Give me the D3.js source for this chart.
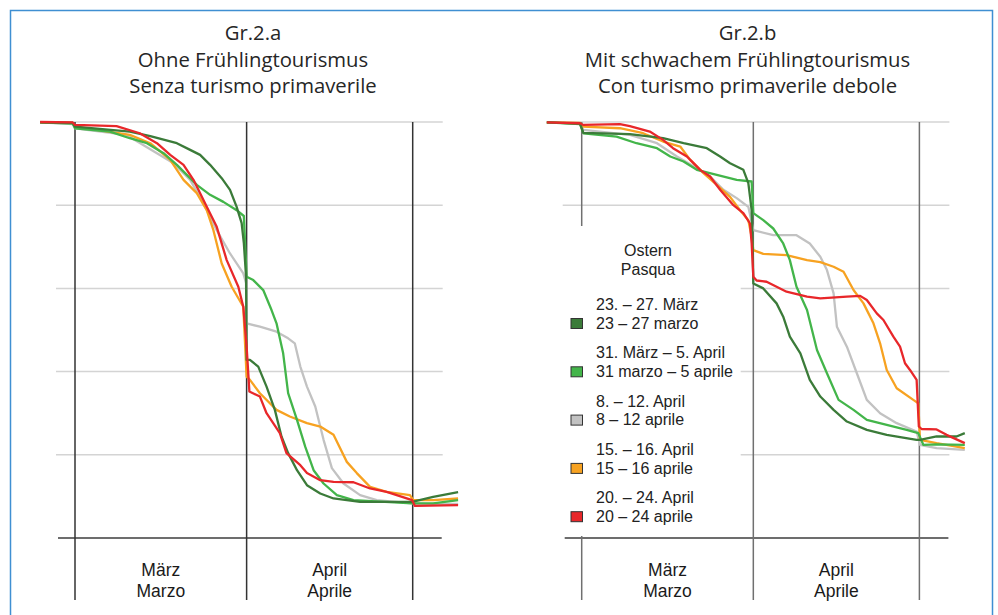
<!DOCTYPE html>
<html>
<head>
<meta charset="utf-8">
<script src="https://cdn.jsdelivr.net/npm/d3@7"></script>
<style>
  body { margin: 0; background: #fff; }
</style>
</head>
<body>
<div id="grafik"></div>
<script>
// Legende: Ostertermine (de / it) und Farben
var osternDe = ["23. – 27. März", "31. März – 5. April", "8. – 12. April", "15. – 16. April", "20. – 24. April"];
var osternIt = ["23 – 27 marzo", "31 marzo – 5 aprile", "8 – 12 aprile", "15 – 16 aprile", "20 – 24 aprile"];
var farben = ["#3b7b39", "#43b54a", "#c2c2c2", "#f7a221", "#e8272a"];

// Achse: Monate, Grenzen in Tagen ab 1. März, Gitterwerte (Index, 100 = Anfang)
var monateDe = ["März", "April"];
var monateIt = ["Marzo", "Aprile"];
var monatsGrenzen = [0, 31, 61];
var gitterWerte = [20, 40, 60, 80, 100];

// Gr.2.a  [Tag ab 1. März, Wert]
var a_dunkelgruen = [[-6.3,99.9],[-0.4,99.8],[0,98.9],[9.9,97.7],[13.6,96.6],[18.4,94.9],[20.8,93.3],[22.6,92.1],[24.4,89.7],[26.5,86.5],[28,83.7],[29.2,79.6],[30.1,75.7],[30.5,70.9],[30.9,62.8],[31,42.8],[31.6,42.8],[33.1,41.2],[34.6,36.4],[36.1,30.8],[37.3,24.4],[38.5,20.4],[40.1,16.3],[41.9,12.7],[44.3,10.7],[46.7,9.5],[51.5,8.7],[60.9,8.7],[64.7,9.9],[69.2,11]];
var a_gruen = [[-6.3,99.9],[-0.4,99.6],[0,98.5],[6.3,97.7],[9.9,96.1],[13,94.9],[16,92.5],[18.4,89.7],[20.2,87.3],[22,84.9],[24.4,82.5],[26.8,80.8],[29.2,78.8],[30.5,77.4],[31,62.8],[32.2,62],[34,59.6],[35.5,54.8],[36.4,51.6],[37.6,44.4],[38.5,34.8],[40.1,28.4],[41.6,21.9],[43.1,16.3],[44.9,13.1],[47.3,10.3],[50.3,9.1],[60.9,8.3],[64.7,8.3],[69.2,9.1]];
var a_grau = [[-6.3,99.9],[-0.4,99.5],[0,98.5],[9.3,96.9],[14.8,92.5],[17.8,90.1],[20.8,86.1],[23.2,80.5],[25.6,74],[28,68.4],[30.4,63.6],[30.9,61.3],[31,51.6],[33.4,50.8],[36.4,49.6],[38.5,48],[39.7,46.8],[40.7,41.2],[41.9,36.4],[43.4,31.6],[44.9,23.6],[46.4,16.8],[48.5,13.1],[51.5,10.3],[54.5,9.1],[60.9,8.3],[64.7,8.2],[69.2,8.2]];
var a_orange = [[-6.3,99.9],[-0.4,99.8],[0,98.9],[9.9,96.9],[13.6,94.9],[17.2,90.9],[18.4,88.5],[19.6,86.1],[22,82.9],[23.8,78.8],[25,74],[26.5,66],[28.3,60.4],[30.4,55.6],[31,38.8],[31.6,38],[33.4,34.8],[36.4,30.8],[38.8,29.2],[41.9,27.6],[44.3,26.8],[46.7,24.8],[49.1,18.3],[50.9,15.6],[53.3,12.3],[56.3,11.1],[60.5,10.3],[61.1,9.1],[64.7,9.1],[69.2,9.5]];
var a_rot = [[-6.3,100],[-0.4,99.9],[0,99.3],[7.5,99],[11.7,97.3],[14.8,94.9],[17.2,92.1],[19.6,89.7],[21.4,86.1],[23.8,79.6],[25.6,74.8],[27.4,66.8],[29.5,60.4],[30.4,55.6],[31,46],[31.5,35.2],[33.4,34],[34.6,30],[37,25.2],[38.2,20.4],[40.7,17.5],[41.9,15.6],[44.3,13.9],[46.7,13.5],[50.3,13.4],[53.3,11.9],[56.3,11.1],[60.9,9.1],[61.4,7.7],[69.2,7.9]];

// Gr.2.b
var b_dunkelgruen = [[-6.3,99.9],[-0.3,99.6],[0.3,97.4],[8.7,97.1],[14.7,96.1],[18.4,94.9],[22.6,93.7],[25,91.7],[26.8,90.1],[29.2,88.5],[30.1,85.3],[30.7,78.8],[30.9,69.2],[31,61.2],[32.8,60],[35.2,56.4],[36.4,53.2],[37.6,48.4],[39.5,44.4],[41.2,38],[43.1,34],[45.5,30.8],[47.9,28],[51.5,26],[55.1,24.8],[60.5,23.6],[61.1,23.6],[64.1,24.4],[67.7,24.4],[69.2,25.2]];
var b_gruen = [[-6.3,99.9],[-0.3,99.5],[0.3,97.3],[6.3,96.5],[9.9,94.9],[13.6,93.7],[16,91.7],[18.4,90.5],[20.8,88.5],[24.4,87.3],[28,86.1],[30.7,85.7],[31,78.1],[32.8,76.4],[34.6,74.4],[36.4,70.8],[37.6,66.8],[38.8,60.4],[40.7,54.8],[42.5,45.2],[44.3,39.6],[46.4,33.2],[49.1,30.8],[51.5,28.4],[55.1,27.2],[58.7,26],[60.8,25.2],[61.7,22.4],[64.1,22.5],[69.2,22.4]];
var b_grau = [[-6.3,99.9],[-0.3,99.6],[0.3,98.1],[8.7,96.9],[13.6,94.9],[17.2,91.7],[20.8,88.9],[23.2,86.9],[25.6,83.7],[28,81.7],[30.1,79.6],[31,74],[34.6,72.8],[38.8,72.8],[41.2,70.8],[43.1,67.6],[44.3,64.4],[45.5,58.8],[46.1,50.8],[47.9,46],[49.7,39.6],[51.5,33.2],[53.9,30],[56.9,27.6],[60.5,25.6],[61.1,22.4],[64.1,21.6],[69.2,21.2]];
var b_orange = [[-6.3,99.9],[-0.3,99.8],[0.3,98.9],[6.9,98.5],[11.1,97.3],[14.7,95.3],[17.8,94.1],[19.6,90.9],[22,87.7],[24.4,84.9],[26.8,82],[28.6,78.8],[30.1,76.4],[30.7,72.4],[31,69.2],[32.8,68.3],[37,68],[40.7,66.8],[43.1,66.3],[45.5,65.2],[47.3,64],[49.1,59.6],[50.9,56.4],[52.7,51.6],[53.9,46.8],[55.1,40.4],[56.9,36],[59.9,33.2],[60.8,32.4],[61.1,23.6],[64.1,22.8],[69.2,21.6]];
var b_rot = [[-6.3,99.9],[-0.3,99.7],[0.3,99.3],[6.9,99.5],[8.7,99],[12.3,97.7],[14.7,95.7],[16.5,93.7],[19,91.7],[20.2,90.1],[21.4,88.5],[23.2,86.9],[25,83.7],[27.4,80],[29.2,78.1],[30.4,75.6],[30.7,70.8],[31,62.8],[31.6,61.9],[33.4,61.6],[37,59.2],[40.7,58],[43.1,57.6],[47.9,58],[50.3,58.2],[51.5,57.2],[53.3,54],[54.5,52.4],[56.3,48.4],[57.5,46],[58.4,42],[59.3,40.4],[60.5,38],[60.9,26.8],[61.4,26.2],[64.1,26.1],[65.9,24.8],[69.2,22.8]];

var width = 998, height = 615;

var svg = d3.select("#grafik")
  .append("svg")
  .attr("width", width)
  .attr("height", height);

// blauer Rahmen
svg.append("rect")
  .attr("x", 10.5).attr("y", 10.5)
  .attr("width", 982).attr("height", 640)
  .attr("fill", "none")
  .attr("stroke", "#3f8fd2")
  .attr("stroke-width", 1.5);

var titel = [
  ["Gr.2.a", "Ohne Frühlingtourismus", "Senza turismo primaverile"],
  ["Gr.2.b", "Mit schwachem Frühlingtourismus", "Con turismo primaverile debole"]
];

function zeichnePanel(versatz, reihen, titelZeilen, titelX, mitLegende) {
  var x = d3.scaleLinear().domain([0, 61]).range([75 + versatz, 412.7 + versatz]);
  var y = d3.scaleLinear().domain([0, 100]).range([538, 122]);
  var g = svg.append("g");

  // Titel
  g.append("text")
    .attr("font-family", "'Open Sans', sans-serif")
    .attr("font-size", 20.3)
    .attr("fill", "#262626")
    .attr("text-anchor", "middle")
    .selectAll("tspan")
    .data(titelZeilen)
    .enter()
    .append("tspan")
      .attr("x", titelX)
      .attr("y", (d, i) => 40 + i * 26.5)
      .text(d => d);

  // Gitterlinien
  g.selectAll(".gitter")
    .data(gitterWerte)
    .enter()
    .append("line")
      .attr("x1", x(0) - 19).attr("x2", x(61) + 30)
      .attr("y1", d => y(d)).attr("y2", d => y(d))
      .attr("stroke", "#d4d4d4")
      .attr("stroke-width", 1.5);

  // Grundlinie
  g.append("line")
    .attr("x1", x(0) - 17).attr("x2", x(61) + 29)
    .attr("y1", y(0)).attr("y2", y(0))
    .attr("stroke", "#3c3c3c")
    .attr("stroke-width", 1.5);

  // Monatsgrenzen
  g.selectAll(".grenze")
    .data(monatsGrenzen)
    .enter()
    .append("line")
      .attr("x1", d => x(d)).attr("x2", d => x(d))
      .attr("y1", y(100)).attr("y2", 600)
      .attr("stroke", mitLegende ? "#707070" : "#333")
      .attr("stroke-width", 1.5);

  // Monatsnamen
  g.append("g")
    .attr("font-family", "'Liberation Sans', Arial, sans-serif")
    .attr("font-size", 17.5)
    .attr("fill", "#1a1a1a")
    .attr("text-anchor", "middle")
    .selectAll("text")
    .data(monateDe)
    .enter()
    .append("text")
      .attr("transform", (d, i) => `translate(${(x(monatsGrenzen[i]) + x(monatsGrenzen[i + 1])) / 2},0)`)
      .call(t => t.append("tspan").attr("x", 0).attr("y", 576).text(d => d))
      .call(t => t.append("tspan").attr("x", 0).attr("y", 596.5).text((d, i) => monateIt[i]));

  if (mitLegende) {
    g.append("rect")
      .attr("x", x(0) - 26).attr("y", 226)
      .attr("width", 185).attr("height", 310)
      .attr("fill", "#fff");
  }

  var linie = d3.line()
    .x(d => x(d[0]))
    .y(d => y(d[1]));

  // Zeichenreihenfolge: grau, orange, gruen, dunkelgruen, rot
  [2, 3, 1, 0, 4].forEach(function(i) {
    g.append("path")
      .datum(reihen[i])
      .attr("fill", "none")
      .attr("stroke", farben[i])
      .attr("stroke-width", 2.3)
      .attr("stroke-linejoin", "round")
      .attr("d", linie);
  });

  if (mitLegende) {
    var leg = g.append("g")
      .attr("font-family", "'Liberation Sans', Arial, sans-serif")
      .attr("font-size", 16)
      .attr("fill", "#222");

    leg.append("text")
      .attr("text-anchor", "middle")
      .call(t => t.append("tspan").attr("x", 648).attr("y", 256).text("Ostern"))
      .call(t => t.append("tspan").attr("x", 648).attr("y", 275).text("Pasqua"));

    var zeilen = leg.selectAll(".eintrag")
      .data(osternDe)
      .enter()
      .append("g")
        .attr("transform", (d, i) => `translate(0,${i * 48.3})`);

    zeilen.append("rect")
      .attr("x", 571).attr("y", 318.5)
      .attr("width", 11.5).attr("height", 10)
      .attr("fill", (d, i) => farben[i])
      .attr("stroke", "#333")
      .attr("stroke-width", 1);

    zeilen.append("text")
      .call(t => t.append("tspan").attr("x", 596).attr("y", 310).text(d => d))
      .call(t => t.append("tspan").attr("x", 596).attr("y", 328.7).text((d, i) => osternIt[i]));
  }
}

zeichnePanel(0, [a_dunkelgruen, a_gruen, a_grau, a_orange, a_rot], titel[0], 253, false);
zeichnePanel(506.7, [b_dunkelgruen, b_gruen, b_grau, b_orange, b_rot], titel[1], 747.5, true);
</script>
</body>
</html>
